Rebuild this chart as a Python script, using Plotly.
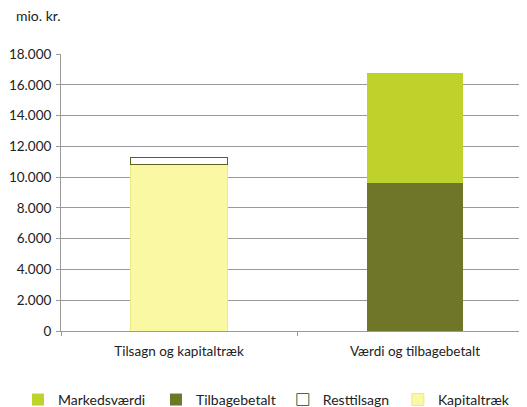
import plotly.graph_objects as go

categories = ["Tilsagn og kapitaltræk", "Værdi og tilbagebetalt"]
kapitaltraek = [10800, 0]
resttilsagn = [500, 0]
tilbagebetalt = [0, 9600]
markedsvaerdi = [0, 7150]
y_ticks = [0, 2000, 4000, 6000, 8000, 10000, 12000, 14000, 16000, 18000]
y_tick_labels = ["0", "2.000", "4.000", "6.000", "8.000", "10.000", "12.000", "14.000", "16.000", "18.000"]

fig = go.Figure()
fig.add_bar(name="Kapitaltræk", x=categories, y=kapitaltraek, legend="legend4",
            marker=dict(color="#faf8a2", line=dict(color="#ece98a", width=1)))
fig.add_bar(name="Resttilsagn", x=categories, y=resttilsagn, legend="legend3",
            marker=dict(color="#ffffff", line=dict(color="#5c6020", width=1)))
fig.add_bar(name="Tilbagebetalt", x=categories, y=tilbagebetalt, legend="legend2",
            marker=dict(color="#6f7629", line=dict(width=0)))
fig.add_bar(name="Markedsværdi", x=categories, y=markedsvaerdi, legend="legend",
            marker=dict(color="#bfd22c", line=dict(width=0)))

leg_common = dict(orientation="h", y=0.037, xref="container", yref="container",
                  xanchor="left", yanchor="middle", font=dict(size=14),
                  itemwidth=30, bgcolor="rgba(0,0,0,0)")

fig.update_layout(
    width=540, height=407,
    barmode="stack", bargap=0.59,
    paper_bgcolor="white", plot_bgcolor="white",
    font=dict(family="Lato, Open Sans, sans-serif", size=13.5, color="#222"),
    margin=dict(l=53, r=15, t=46, b=84, autoexpand=False),
    showlegend=True,
    legend=dict(x=0.0185, **leg_common),
    legend2=dict(x=0.274, **leg_common),
    legend3=dict(x=0.509, **leg_common),
    legend4=dict(x=0.722, **leg_common),
    annotations=[dict(text="mio. kr.", xref="paper", yref="paper", x=-0.1, y=1.14,
                      xanchor="left", yanchor="middle", showarrow=False,
                      font=dict(size=14))],
)
fig.update_yaxes(range=[0, 18000], tickvals=y_ticks, ticktext=y_tick_labels,
                 showgrid=True, gridcolor="#9a9a9a", gridwidth=1,
                 showline=True, linecolor="#9a9a9a", ticks="outside", ticklen=4,
                 tickcolor="#9a9a9a", zeroline=False, tickfont=dict(size=13.5),
                 ticklabelstandoff=2)
fig.update_xaxes(showline=True, linecolor="#9a9a9a", ticks="outside", ticklen=4,
                 tickcolor="#9a9a9a", tickson="boundaries", showgrid=False,
                 ticklabelstandoff=8)

fig.write_html("out.html")
